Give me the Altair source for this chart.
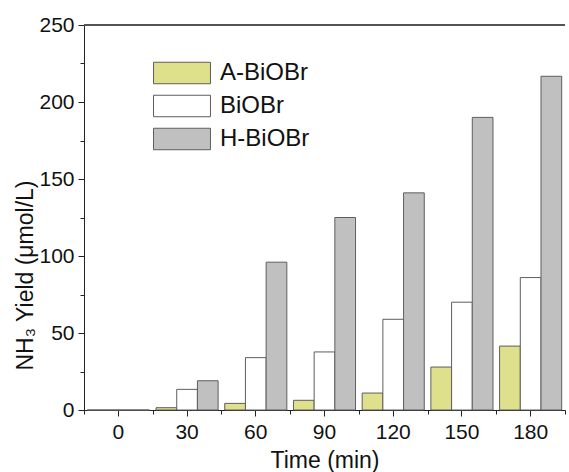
import altair as alt
import pandas as pd

times = ["0", "30", "60", "90", "120", "150", "180"]
series_names = ["A-BiOBr", "BiOBr", "H-BiOBr"]
a_vals = [0, 1.5, 4.3, 6.3, 11, 27.9, 41.5]
b_vals = [0, 13.4, 34, 37.7, 58.9, 70, 86]
h_vals = [0, 19, 96, 125, 141, 190, 216.7]
fills = ["#dfe08c", "#ffffff", "#c0c0c0"]
y_ticks = [0, 25, 50, 75, 100, 125, 150, 175, 200, 225, 250]

rows = []
for name, vals in zip(series_names, [a_vals, b_vals, h_vals]):
    for t, v in zip(times, vals):
        rows.append({"Time": t, "Series": name, "Yield": v})
df = pd.DataFrame(rows)

FONT = "Liberation Sans"

y_enc = alt.Y(
    "Yield:Q",
    scale=alt.Scale(domain=[0, 250], nice=False, zero=True),
    axis=alt.Axis(
        values=y_ticks,
        labelExpr="datum.value % 50 == 0 ? datum.label : ''",
        tickSize={"condition": {"test": "datum.value % 50 != 0", "value": 4}, "value": 6},
        labelPadding=4,
        grid=False,
        domainColor="#222",
        tickColor="#222",
        labelColor="#111",
        labelFont=FONT,
        labelFontSize=21,
        title="NH₃ Yield (μmol/L)",
        titleFont=FONT,
        titleFontSize=23,
        titleFontWeight="normal",
        titleColor="#111",
        titleBaseline="middle",
        titleX=-59,
        titleY=250,
    ),
)

x_scale = alt.Scale(domain=times, paddingInner=0, paddingOuter=0)

bars = alt.Chart(df).mark_bar(stroke="#5e5e5e", strokeWidth=1, opacity=1).encode(
    x=alt.X(
        "Time:N",
        sort=times,
        scale=x_scale,
        axis=alt.Axis(
            orient="bottom",
            labelAngle=0,
            tickSize=6,
            labelPadding=5,
            domainColor="#222",
            tickColor="#222",
            labelColor="#111",
            labelFont=FONT,
            labelFontSize=21,
            title="Time (min)",
            titleFont=FONT,
            titleFontSize=23,
            titleFontWeight="normal",
            titleColor="#111",
            titleBaseline="alphabetic",
            titleY=57,
        ),
    ),
    xOffset=alt.XOffset(
        "Series:N",
        sort=series_names,
        scale=alt.Scale(paddingInner=0, paddingOuter=0.16),
    ),
    y=y_enc,
    fill=alt.Fill(
        "Series:N",
        sort=series_names,
        scale=alt.Scale(domain=series_names, range=fills),
        legend=alt.Legend(
            orient="none",
            legendX=86,
            legendY=36,
            title=None,
            padding=0,
            symbolType="M-2.65,-1H2.65V1H-2.65Z",
            symbolSize=462,
            symbolStrokeColor="#5e5e5e",
            symbolStrokeWidth=1,
            symbolOpacity=1,
            labelOffset=26,
            labelFont=FONT,
            labelFontSize=24,
            labelColor="#111",
            rowPadding=7,
        ),
    ),
)

minor = alt.Chart(df).mark_bar(opacity=0).encode(
    x=alt.X(
        "Time:N",
        sort=times,
        scale=x_scale,
        axis=alt.Axis(
            orient="bottom",
            tickBand="extent",
            labels=False,
            domain=False,
            tickSize=4,
            tickColor="#222",
            title=None,
        ),
    ),
    y=y_enc,
)

top_line = alt.Chart(df).mark_rule(color="#555", strokeWidth=1).encode(
    y=alt.value(0)
)

chart = (
    alt.layer(bars, minor, top_line)
    .resolve_axis(x="independent")
    .properties(
        width=481,
        height=385,
        autosize=alt.AutoSizeParams(type="none"),
        padding={"left": 84, "top": 25, "right": 4, "bottom": 62},
        background="white",
    )
    .configure_view(stroke=None)
)

chart.save("out.html", embed_options={"renderer": "svg", "actions": False})
